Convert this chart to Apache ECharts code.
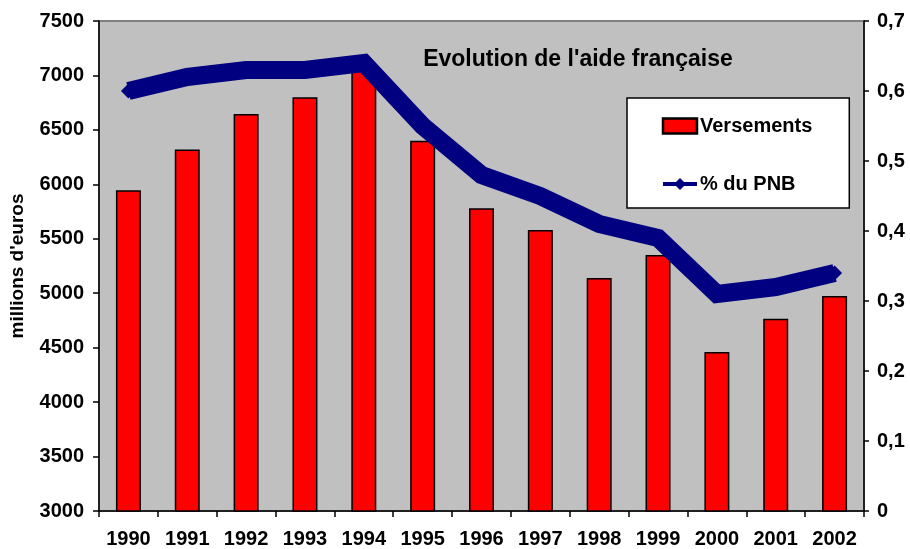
<!DOCTYPE html>
<html>
<head>
<meta charset="utf-8">
<script src="https://cdn.jsdelivr.net/npm/echarts@6/dist/echarts.min.js"></script>
<style>
html,body{margin:0;padding:0;background:#fff;}
#c{width:910px;height:549px;}
</style>
</head>
<body>
<div id="c"></div>
<script>
const years = ['1990','1991','1992','1993','1994','1995','1996','1997','1998','1999','2000','2001','2002'];
const versements = [5945, 6320, 6645, 6800, 7050, 6400, 5780, 5580, 5140, 5350, 4460, 4765, 4975];
const pctPNB = [0.60, 0.62, 0.63, 0.63, 0.64, 0.55, 0.48, 0.45, 0.41, 0.39, 0.31, 0.32, 0.34];
const titleText = "Evolution de l'aide française";
const leftAxisName = "millions d'euros";
const seriesNames = ['Versements', '% du PNB'];

const FONT = '"Liberation Sans", Arial, sans-serif';
const chart = echarts.init(document.getElementById('c'), null, {renderer: 'canvas'});
chart.setOption({
  animation: false,
  backgroundColor: '#ffffff',
  textStyle: {fontFamily: FONT},
  title: {
    text: titleText,
    left: 578, top: 48,
    textAlign: 'center',
    padding: 0,
    textStyle: {fontFamily: FONT, fontSize: 23, fontWeight: 'bold', color: '#000'}
  },
  legend: {
    orient: 'vertical',
    left: 627, top: 98,
    padding: [18, 37, 14, 34],
    itemGap: 38,
    itemWidth: 34, itemHeight: 15,
    backgroundColor: '#ffffff',
    borderColor: '#000000',
    borderWidth: 1.5,
    textStyle: {fontFamily: FONT, fontSize: 20, fontWeight: 'bold', color: '#000', padding: [0,0,0,-2]},
    data: [
      {name: seriesNames[0], icon: 'rect', itemStyle: {borderWidth: 2.5}},
      {name: seriesNames[1], lineStyle: {width: 4}}
    ]
  },
  grid: {
    left: 97, right: 46, top: 21, bottom: 38,
    show: true,
    backgroundColor: '#C0C0C0',
    borderColor: '#808080',
    borderWidth: 2
  },
  xAxis: {
    type: 'category',
    data: years,
    boundaryGap: true,
    axisLine: {show: true, lineStyle: {color: '#000', width: 1.5}},
    axisTick: {show: true, inside: false, length: 6, alignWithLabel: false, lineStyle: {color: '#000', width: 1.5}},
    axisLabel: {margin: 18, fontFamily: FONT, fontSize: 20, fontWeight: 'bold', color: '#000'},
    splitLine: {show: false}
  },
  yAxis: [
    {
      type: 'value',
      min: 3000, max: 7500, interval: 500,
      name: leftAxisName,
      nameLocation: 'middle',
      nameGap: 72,
      nameRotate: 90,
      nameTextStyle: {fontFamily: FONT, fontSize: 19, fontWeight: 'bold', color: '#000'},
      axisLine: {show: true, lineStyle: {color: '#000', width: 1.5}},
      axisTick: {show: true, length: 6, lineStyle: {color: '#000', width: 1.5}},
      axisLabel: {margin: 15, fontFamily: FONT, fontSize: 20, fontWeight: 'bold', color: '#000',
        formatter: v => String(v)},
      splitLine: {show: false}
    },
    {
      type: 'value',
      min: 0, max: 0.7, interval: 0.1,
      position: 'right',
      axisLine: {show: true, lineStyle: {color: '#000', width: 1.5}},
      axisTick: {show: true, length: 5, lineStyle: {color: '#000', width: 1.5}},
      axisLabel: {margin: 13, fontFamily: FONT, fontSize: 20, fontWeight: 'bold', color: '#000',
        formatter: v => String(Math.round(v*10)/10).replace('.', ',')},
      splitLine: {show: false}
    }
  ],
  series: [
    {
      name: seriesNames[0],
      type: 'bar',
      yAxisIndex: 0,
      data: versements,
      barWidth: 25,
      itemStyle: {color: '#FF0000', borderColor: '#000', borderWidth: 1.5},
      z: 2
    },
    {
      name: seriesNames[1],
      type: 'line',
      yAxisIndex: 1,
      data: pctPNB,
      symbol: 'diamond',
      symbolSize: 15,
      itemStyle: {color: '#000080'},
      lineStyle: {color: '#000080', width: 18, join: 'miter', cap: 'butt'},
      z: 3
    }
  ]
});
</script>
</body>
</html>
